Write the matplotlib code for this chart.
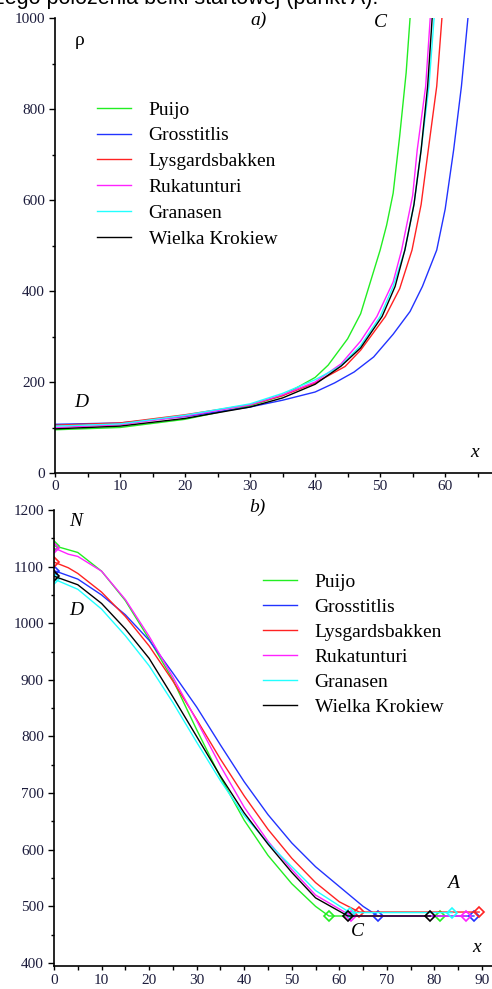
import matplotlib
matplotlib.use("Agg")
import matplotlib.pyplot as plt
from matplotlib.ticker import MultipleLocator

# ---------------- data ----------------
names = ["Puijo", "Grosstitlis", "Lysgardsbakken", "Rukatunturi", "Granasen", "Wielka Krokiew"]
colors = ["#22ee22", "#2233ff", "#ff2222", "#ff22ff", "#22ffff", "#000000"]

# (a) radius of curvature rho vs x
rho_x_puijo = [0, 10, 20, 30, 35, 40, 42, 45, 47, 50, 51, 52, 53, 54, 54.6, 55]
rho_puijo   = [95, 100, 118, 148, 170, 210, 237, 295, 350, 490, 545, 615, 740, 880, 1000, 1100]
rho_x_gross = [0, 10, 20, 30, 35, 40, 43, 46, 49, 52, 54.6, 56.5, 58.7, 60, 61.3, 62.5, 63.5, 64]
rho_gross   = [107, 110, 124, 145, 160, 178, 198, 222, 255, 305, 355, 410, 490, 580, 710, 850, 1000, 1100]
rho_x_lysg  = [0, 10, 20, 30, 35, 40, 44.6, 47, 50.8, 53, 54.9, 56.3, 57.4, 58.7, 59.5, 60]
rho_lysg    = [105, 110, 128, 150, 170, 198, 234, 270, 344, 405, 490, 590, 710, 850, 1000, 1100]
rho_x_ruka  = [0, 10, 20, 30, 35, 40, 44, 47, 49.5, 52, 53.3, 55, 55.7, 57, 57.7, 58]
rho_ruka    = [100, 106, 125, 150, 172, 200, 240, 290, 344, 420, 490, 610, 710, 850, 1000, 1100]
rho_x_gran  = [0, 10, 20, 30, 35, 40, 43.8, 47, 50, 52, 53.8, 55.2, 56.3, 57.5, 58.3, 58.6]
rho_gran    = [103, 108, 127, 152, 175, 205, 234, 280, 344, 410, 490, 590, 710, 850, 1000, 1100]
rho_x_wk    = [0, 10, 20, 30, 35, 40, 44, 47, 50.3, 52.3, 53.8, 55.2, 56.3, 57.3, 58, 58.3]
rho_wk      = [97, 103, 120, 145, 165, 195, 235, 275, 344, 410, 490, 590, 710, 850, 1000, 1100]

# (b) normal force N vs x
n_x_puijo = [0, 5, 10, 15, 20, 25, 30, 35, 40, 45, 50, 55, 57.8, 81.2]
n_puijo   = [1137, 1125, 1092, 1040, 972, 900, 812, 728, 652, 590, 540, 500, 483, 483]
n_x_gross = [0, 5, 10, 15, 20, 25, 30, 35, 40, 45, 50, 55, 60, 65, 68.1, 88.3]
n_gross   = [1093, 1078, 1050, 1015, 970, 912, 852, 785, 720, 662, 612, 570, 535, 500, 483, 483]
n_x_lysg  = [0, 3, 5, 10, 15, 20, 25, 30, 35, 40, 45, 50, 55, 60, 64.2, 89.4]
n_lysg    = [1108, 1098, 1088, 1055, 1012, 960, 898, 830, 760, 695, 636, 585, 542, 508, 490, 490]
n_x_ruka  = [0, 3, 5, 10, 15, 20, 25, 30, 35, 40, 45, 50, 55, 62.5, 86.6]
n_ruka    = [1133, 1122, 1118, 1092, 1042, 977, 905, 828, 748, 675, 615, 565, 520, 483, 483]
n_x_gran  = [0, 5, 10, 15, 20, 25, 30, 35, 40, 45, 50, 55, 62.2, 83.7]
n_gran    = [1078, 1060, 1025, 978, 925, 860, 790, 722, 660, 612, 570, 528, 489, 489]
n_x_wk    = [0, 5, 10, 15, 20, 25, 30, 35, 40, 45, 50, 55, 61.8, 79.1]
n_wk      = [1083, 1068, 1035, 990, 938, 870, 800, 730, 665, 610, 560, 515, 483, 483]

rho_series = [(rho_x_puijo, rho_puijo), (rho_x_gross, rho_gross), (rho_x_lysg, rho_lysg),
              (rho_x_ruka, rho_ruka), (rho_x_gran, rho_gran), (rho_x_wk, rho_wk)]
n_series = [(n_x_puijo, n_puijo), (n_x_gross, n_gross), (n_x_lysg, n_lysg),
            (n_x_ruka, n_ruka), (n_x_gran, n_gran), (n_x_wk, n_wk)]

# ---------------- figure ----------------
W, H = 492, 989
fig = plt.figure(figsize=(W / 100, H / 100), dpi=100)
serif = "Liberation Serif"
tick_color = "#1c1c3c"


def px_axes(x0, x1, y_top, y_bot):
    return fig.add_axes([x0 / W, 1 - y_bot / H, (x1 - x0) / W, (y_bot - y_top) / H])


def style(ax, xmaj, xmin, ymaj, ymin):
    for s in ("top", "right"):
        ax.spines[s].set_visible(False)
    for s in ("left", "bottom"):
        ax.spines[s].set_linewidth(1.2)
    ax.xaxis.set_major_locator(MultipleLocator(xmaj))
    ax.xaxis.set_minor_locator(MultipleLocator(xmin))
    ax.yaxis.set_major_locator(MultipleLocator(ymaj))
    ax.yaxis.set_minor_locator(MultipleLocator(ymin))
    ax.tick_params(axis="y", which="major", length=4.3, width=1, direction="out", pad=3,
                   labelsize=11, labelcolor=tick_color)
    ax.tick_params(axis="y", which="minor", length=2.2, width=1, direction="out")
    ax.tick_params(axis="x", which="both", length=2.9, width=1, direction="out", pad=2.5,
                   labelsize=11, labelcolor=tick_color)
    for lab in ax.get_xticklabels() + ax.get_yticklabels():
        lab.set_fontfamily(serif)


leg_kw = dict(frameon=False, prop={"family": serif, "size": 14}, handlelength=1.75,
              handletextpad=0.9, borderaxespad=0, borderpad=0)

# ---- (a) ----
ax1 = px_axes(55, 492, 18, 473)
for (xs, ys), c, nm in zip(rho_series, colors, names):
    ax1.plot(xs, ys, color=c, lw=1.0, label=nm)
ax1.set_xlim(0, 67.2)
ax1.set_ylim(0, 1000)
style(ax1, 10, 5, 200, 100)
ax1.legend(loc="upper left", bbox_to_anchor=(42 / 437, 1 - 83 / 455), labelspacing=0.42, **leg_kw)
ax1.text(0.045, 0.95, "ρ", transform=ax1.transAxes, fontsize=14, family=serif, va="center")
ax1.text(0.465, 0.995, "a)", transform=ax1.transAxes, fontsize=14, family=serif,
         style="italic", va="center", ha="center")
ax1.text(0.745, 0.99, "C", transform=ax1.transAxes, fontsize=14, family=serif,
         style="italic", va="center", ha="center")
ax1.text(0.045, 0.155, "D", transform=ax1.transAxes, fontsize=14, family=serif,
         style="italic", va="center")
ax1.text(0.95, 0.045, "x", transform=ax1.transAxes, fontsize=14, family=serif,
         style="italic", va="center")

# ---- (b) ----
ax2 = px_axes(54, 492, 510, 966)
for (xs, ys), c, nm in zip(n_series, colors, names):
    ax2.plot(xs, ys, color=c, lw=1.0, label=nm)
    ax2.plot([xs[0], xs[-2], xs[-1]], [ys[0], ys[-2], ys[-1]], linestyle="none",
             marker="D", ms=5.5, mfc="none", mec=c, mew=1.2)
ax2.set_xlim(0, 92.1)
ax2.set_ylim(394.7, 1200)
style(ax2, 10, 5, 100, 50)
handles = ax2.get_lines()[0::2]
ax2.legend(handles, names, loc="upper left", bbox_to_anchor=(209 / 438, 1 - 63 / 456),
           labelspacing=0.38, **leg_kw)
ax2.text(0.465, 1.005, "b)", transform=ax2.transAxes, fontsize=14, family=serif,
         style="italic", va="center", ha="center")
ax2.text(0.035, 0.975, "N", transform=ax2.transAxes, fontsize=14, family=serif,
         style="italic", va="center")
ax2.text(0.035, 0.78, "D", transform=ax2.transAxes, fontsize=14, family=serif,
         style="italic", va="center")
ax2.text(0.898, 0.18, "A", transform=ax2.transAxes, fontsize=14, family=serif,
         style="italic", va="center")
ax2.text(0.677, 0.075, "C", transform=ax2.transAxes, fontsize=14, family=serif,
         style="italic", va="center")
ax2.text(0.955, 0.04, "x", transform=ax2.transAxes, fontsize=14, family=serif,
         style="italic", va="center")

# cropped caption line at the very top
fig.text(-0.012, 1 - 4 / H, "żego położenia belki startowej (punkt A).", fontsize=15.5,
         family="Liberation Sans", va="baseline", ha="left")

fig.savefig("out.png", dpi=100)
